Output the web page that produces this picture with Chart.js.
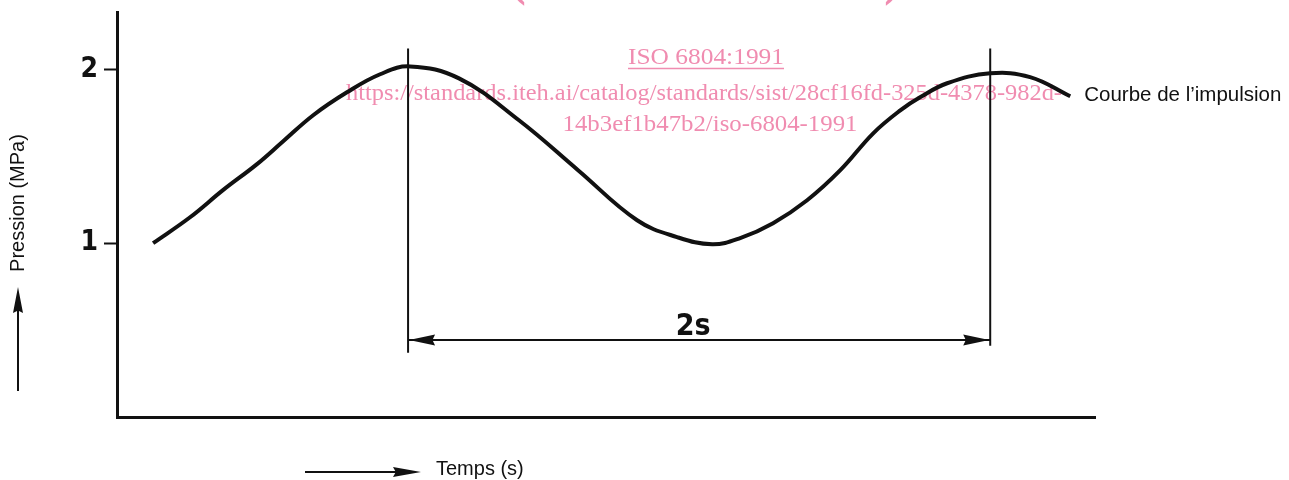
<!DOCTYPE html>
<html>
<head>
<meta charset="utf-8">
<script src="https://cdn.jsdelivr.net/npm/chart.js@4.4.1/dist/chart.umd.min.js"></script>
<style>
  html, body { margin: 0; background: #fff; }
  #wrap { width: 1289px; height: 480px; }
</style>
</head>
<body>
<div id="wrap"><canvas id="pulse"></canvas></div>
<script>
// pulse curve (time in s, pressure in MPa)
const timeS = [0.124, 0.251, 0.364, 0.481, 0.570, 0.674, 0.790, 0.904, 1.007,
  1.175, 1.381, 1.584, 1.787, 1.924, 2.045, 2.141, 2.254, 2.371, 2.485, 2.598,
  2.691, 2.759, 2.852, 3.0, 3.137, 3.275];
const pressureMPa = [1.000, 1.149, 1.305, 1.455, 1.585, 1.736, 1.868, 1.972, 2.017,
  1.948, 1.707, 1.420, 1.132, 1.035, 0.994, 1.029, 1.115, 1.247, 1.420, 1.632,
  1.764, 1.839, 1.920, 1.977, 1.955, 1.845];
const yTicks = [1, 2];

// period marks
const markTimes = [1, 3];
const markTop = 2.12;
const markBottoms = [0.37, 0.41];
const spanY = 0.443;
const spanLabel = '2s';

const curveLabel = 'Courbe de l’impulsion';
const yTitle = 'Pression (MPa)';
const xTitle = 'Temps (s)';
const watermark = [
  'ISO 6804:1991',
  'https://standards.iteh.ai/catalog/standards/sist/28cf16fd-325d-4378-982d-',
  '14b3ef1b47b2/iso-6804-1991',
];
const watermarkTop = '(standards.iteh.ai)';

const ink = '#111';
const pink = 'rgb(240,140,176)';
const sans = '"Liberation Sans", Arial, sans-serif';
const narrow = '"Liberation Sans Narrow", "DejaVu Sans Condensed", sans-serif';

function fitText(ctx, text, cx, y, width) {
  const w = ctx.measureText(text).width;
  ctx.save();
  ctx.translate(cx, y);
  ctx.scale(width / w, 1);
  ctx.textAlign = 'center';
  ctx.fillText(text, 0, 0);
  ctx.restore();
}

// filled arrow head, tip at (x,y), pointing along (dx,dy)
function arrowHead(ctx, x, y, dx, dy, len, half) {
  ctx.beginPath();
  ctx.moveTo(x, y);
  ctx.lineTo(x - dx * len - dy * half, y - dy * len + dx * half);
  ctx.lineTo(x - dx * len * 0.9, y - dy * len * 0.9);
  ctx.lineTo(x - dx * len + dy * half, y - dy * len - dx * half);
  ctx.closePath();
  ctx.fill();
}

const watermarkPlugin = {
  id: 'watermark',
  beforeDatasetsDraw(chart) {
    const ctx = chart.ctx;
    ctx.save();
    ctx.fillStyle = pink;
    ctx.strokeStyle = pink;
    ctx.textBaseline = 'alphabetic';
    ctx.font = 'bold 60px "Liberation Serif", serif';
    fitText(ctx, watermarkTop, 705, -7, 392);
    ctx.font = '24px "Liberation Serif", serif';
    fitText(ctx, watermark[0], 706, 64, 156);
    ctx.lineWidth = 1.3;
    ctx.beginPath();
    ctx.moveTo(628, 68.5);
    ctx.lineTo(784, 68.5);
    ctx.stroke();
    fitText(ctx, watermark[1], 704, 100, 716);
    fitText(ctx, watermark[2], 710, 131, 295);
    ctx.restore();
  }
};

const extrasPlugin = {
  id: 'extras',
  afterDatasetsDraw(chart) {
    const ctx = chart.ctx;
    const xs = chart.scales.x;
    const ys = chart.scales.y;
    ctx.save();
    ctx.strokeStyle = ink;
    ctx.fillStyle = ink;
    ctx.lineWidth = 2;

    // vertical period marks
    markTimes.forEach((t, i) => {
      const px = xs.getPixelForValue(t);
      ctx.beginPath();
      ctx.moveTo(px, ys.getPixelForValue(markTop));
      ctx.lineTo(px, ys.getPixelForValue(markBottoms[i]));
      ctx.stroke();
    });

    // dimension line with arrows
    const x1 = xs.getPixelForValue(markTimes[0]);
    const x2 = xs.getPixelForValue(markTimes[1]);
    const sy = ys.getPixelForValue(spanY);
    ctx.beginPath();
    ctx.moveTo(x1, sy);
    ctx.lineTo(x2, sy);
    ctx.stroke();
    arrowHead(ctx, x1 + 1, sy, -1, 0, 26, 5.5);
    arrowHead(ctx, x2 - 1, sy, 1, 0, 26, 5.5);
    ctx.font = 'bold 30px ' + narrow;
    ctx.textAlign = 'center';
    ctx.textBaseline = 'alphabetic';
    ctx.fillText(spanLabel, (x1 + x2) / 2 - 6, sy - 5);

    // curve label next to the last point
    const last = timeS.length - 1;
    ctx.font = '20.5px ' + sans;
    ctx.textAlign = 'left';
    ctx.textBaseline = 'middle';
    ctx.fillText(curveLabel, xs.getPixelForValue(timeS[last]) + 14,
      ys.getPixelForValue(pressureMPa[last]) - 1);

    // y title with upward arrow
    const a = chart.chartArea;
    ctx.font = '20px ' + sans;
    ctx.save();
    ctx.translate(18, 203);
    ctx.rotate(-Math.PI / 2);
    ctx.textAlign = 'center';
    ctx.fillText(yTitle, 0, 0);
    ctx.restore();
    ctx.beginPath();
    ctx.moveTo(18, 391);
    ctx.lineTo(18, 300);
    ctx.stroke();
    arrowHead(ctx, 18, 287, 0, -1, 26, 5);

    // x title with right arrow
    ctx.textAlign = 'left';
    ctx.fillText(xTitle, a.left + 319, 469);
    ctx.beginPath();
    ctx.moveTo(a.left + 188, 472);
    ctx.lineTo(a.left + 290, 472);
    ctx.stroke();
    arrowHead(ctx, a.left + 304, 472, 1, 0, 28, 5);
    ctx.restore();
  }
};

new Chart(document.getElementById('pulse'), {
  type: 'line',
  data: {
    datasets: [{
      data: timeS.map((t, i) => ({x: t, y: pressureMPa[i]})),
      borderColor: ink,
      borderWidth: 4,
      pointRadius: 0,
      tension: 0.4,
      fill: false,
    }],
  },
  options: {
    responsive: true,
    maintainAspectRatio: false,
    animation: false,
    layout: {padding: {left: 0, right: 194, top: 12, bottom: 63}},
    plugins: {
      legend: {display: false},
      tooltip: {enabled: false},
    },
    scales: {
      x: {
        type: 'linear',
        min: 0,
        max: 3.36,
        ticks: {display: false},
        grid: {display: false, drawTicks: false},
        border: {color: ink, width: 3},
        afterFit(s) { s.height = 0; s.paddingLeft = 0; s.paddingRight = 0; },
      },
      y: {
        min: 0,
        max: 2.33,
        afterBuildTicks(s) { s.ticks = yTicks.map(v => ({value: v})); },
        ticks: {
          color: ink,
          padding: 6,
          font: {family: narrow, size: 28, weight: 'bold'},
        },
        grid: {drawOnChartArea: false, tickLength: 13, tickWidth: 2, tickColor: ink},
        border: {color: ink, width: 3},
        afterFit(s) { s.width = 117; s.paddingTop = 0; s.paddingBottom = 0; },
      },
    },
  },
  plugins: [watermarkPlugin, extrasPlugin],
});
</script>
</body>
</html>
